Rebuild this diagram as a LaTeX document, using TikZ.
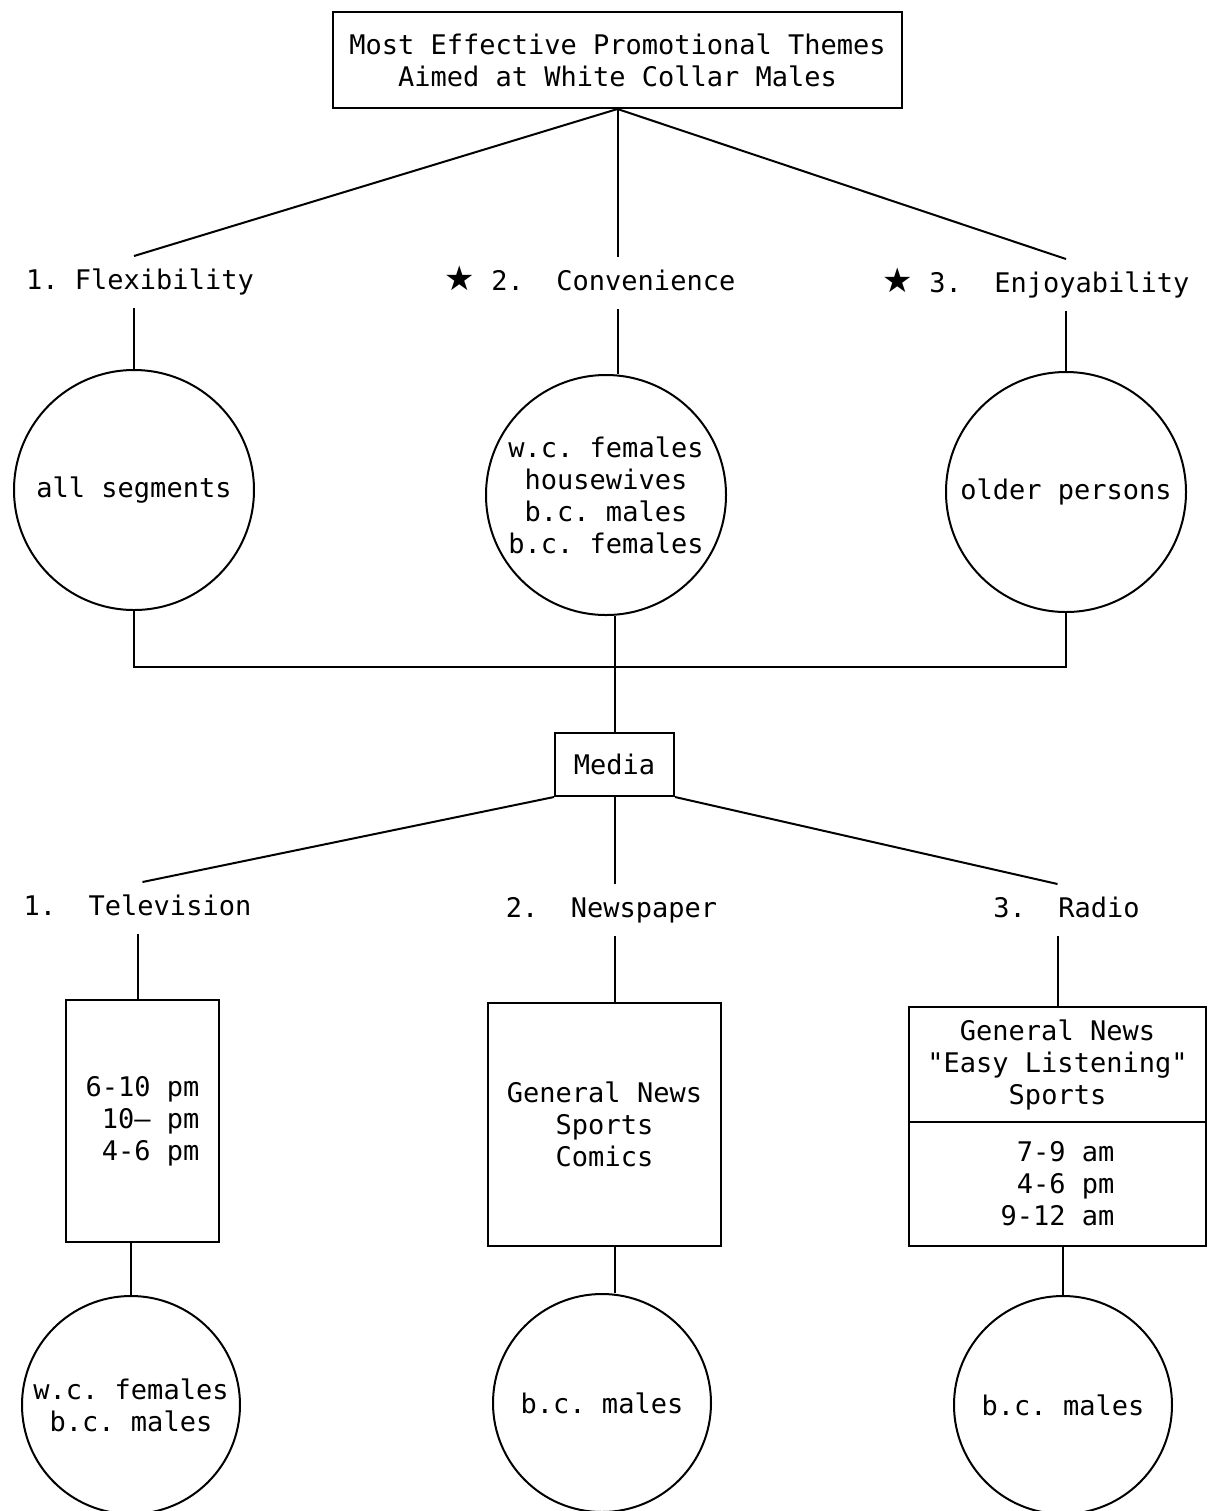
\documentclass[tikz,border=0pt]{standalone}
\usepackage{fontspec}
\setmonofont{DejaVu Sans Mono}
\newfontfamily\starfont{DejaVu Sans}
\usepackage{tikz}
\newcommand{\starmark}{{\starfont\fontsize{17}{17}\selectfont ★}}

\begin{document}
\begin{tikzpicture}[x=0.5pt, y=-0.5pt, line width=1pt,
		every node/.style={font=\ttfamily\fontsize{13.5}{16}\selectfont},
		theme/.style={text height=9.5pt, text depth=2.5pt, inner xsep=2pt, inner ysep=6.5pt},
		seg/.style={draw, circle, minimum size=#1, inner sep=0pt, align=center},
		seg/.default=120pt,
		box/.style={draw, rectangle, inner sep=0pt, align=center}]
				\useasboundingbox (0,0) rectangle (1210,1511);

				\node[box, minimum width=284.5pt, minimum height=48pt] (TITLE) at (617.5,60) {Most Effective Promotional Themes\\Aimed at White Collar Males};

				\node[theme] (FLEX)  at (140,282)  {1. Flexibility};
				\node[theme] (CONV)  at (590,283)  {\starmark~2.~~Convenience};
				\node[theme] (ENJOY) at (1036,285) {\starmark~3.~~Enjoyability};

				\node[seg] (SEGALL)  at (134,490)  {all segments};
				\node[seg] (SEGCONV) at (606,495)  {w.c. females\\housewives\\b.c. males\\b.c. females};
				\node[seg] (SEGOLD)  at (1066,492) {older persons};

				\coordinate (JOIN) at (614,667);
				\node[box, minimum width=59.5pt, minimum height=31.5pt] (MEDIA) at (614.5,764.5) {Media};

				\node[theme] (TV)    at (137.5,908)  {1.~~Television};
				\node[theme] (NEWS)  at (611.5,910)  {2.~~Newspaper};
				\node[theme] (RADIO) at (1066.5,910) {3.~~Radio};

				\node[box, align=right, minimum width=76.5pt, minimum height=121pt] (TVBOX) at (142.5,1121) {6-10 pm\\10— pm\\4-6 pm};
				\node[box, minimum width=116.5pt, minimum height=121.5pt] (NEWSBOX) at (604.5,1124.5) {General News\\Sports\\Comics};
				\node[box, minimum width=148.5pt, minimum height=57.5pt] (RADIOTOP) at (1057.5,1064.5) {General News\\"Easy Listening"\\Sports};
				\node[box, align=right, minimum width=148.5pt, minimum height=62pt, anchor=north] (RADIOBOT) at ([yshift=1pt]RADIOTOP.south) {7-9 am\\4-6 pm\\9-12 am};

				\node[seg=109pt] (TVSEG)    at (131,1405)  {w.c. females\\b.c. males};
				\node[seg=109pt] (NEWSSEG)  at (602,1403)  {b.c. males};
				\node[seg=109pt] (RADIOSEG) at (1063,1405) {b.c. males};

				\path	(TITLE.south)	edge	(FLEX.north -| SEGALL.north)
						(TITLE.south)	edge	(TITLE.south |- CONV.north)
						(TITLE.south)	edge	(ENJOY.north -| SEGOLD.north)
						(FLEX.south -| SEGALL.north)	edge	(SEGALL.north)
						(CONV.south -| TITLE.south)	edge	(SEGCONV.north -| TITLE.south)
						(ENJOY.south -| SEGOLD.north)	edge	(SEGOLD.north)
						(SEGCONV.south -| MEDIA.north)	edge	(MEDIA.north)
						(MEDIA.south west)	edge	(TV.north -| TVBOX.north)
						(MEDIA.south)		edge	(MEDIA.south |- NEWS.north)
						(MEDIA.south east)	edge	(RADIO.north -| RADIOTOP.north)
						(TV.south)		edge	(TV.south |- TVBOX.north)
						(NEWS.south -| MEDIA.south)	edge	(NEWSBOX.north -| MEDIA.south)
						(RADIO.south -| RADIOTOP.north)	edge	(RADIOTOP.north)
						(TVBOX.south -| TVSEG.north)	edge	(TVSEG.north)
						(NEWSBOX.south -| MEDIA.south)	edge	(NEWSSEG.north -| MEDIA.south)
						(RADIOBOT.south -| RADIOSEG.north)	edge	(RADIOSEG.north);
				\draw	(SEGALL.south) |- (JOIN) -| (SEGOLD.south);
			\end{tikzpicture}
\end{document}
